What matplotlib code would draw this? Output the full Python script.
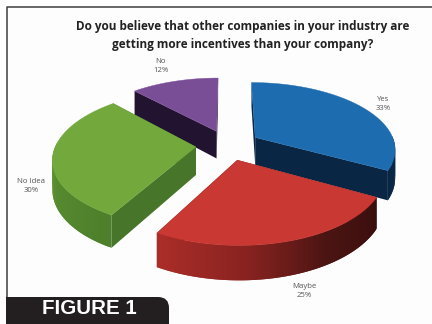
import numpy as np
import matplotlib
matplotlib.use("Agg")
import matplotlib.pyplot as plt
from matplotlib.colors import LinearSegmentedColormap
from matplotlib.patches import FancyBboxPatch, Polygon, Rectangle

labels = ["Yes", "Maybe", "No Idea", "No"]
values = [33, 25, 30, 12]
top_colors = ["#1d6cb0", "#c93832", "#72a83c", "#7a4e96"]
wall_colors = ["#0a2645", "#241019", "#47762b", "#221430"]
# outer rim colours, from the start of each slice's arc to its end
rim_colors = [["#2a7ec4", "#0c2c50", "#0a2645", "#0a2645"],
              ["#3a0e0e", "#4a1412", "#8a2320", "#ab2d28"],
              ["#4d7f2c", "#5c9030", "#68a236"], ["#221430", "#221430"]]
label_pos = [(383, 104), (304, 291), (31, 186), (161, 66)]

title = "Do you believe that other companies in your industry are\ngetting more incentives than your company?"
tag = "FIGURE 1"

# projection of the tilted pie onto the page, in pixels
cx, cy = 228, 145
rx, ry = 140, 66
persp = 0.162
explode = 0.23
depth = 28


def project(x, y, z=0):
    w = 1 / (1 - persp * y)
    return cx + rx * x * w, cy + ry * y * w + depth * z * w


def ground(t, r=1.0, mid=0.0):
    return explode * np.sin(mid) + r * np.sin(t), -explode * np.cos(mid) - r * np.cos(t)


fig = plt.figure(figsize=(4.32, 3.24), dpi=100)
ax = fig.add_axes([0, 0, 1, 1])
ax.set_xlim(0, 432)
ax.set_ylim(324, 0)
ax.axis("off")

# page frame
ax.plot([432, 6.5, 6.5], [6.5, 6.5, 324], color="#3c3c3c", lw=1.1, zorder=1)

edges = np.cumsum([0] + values) / sum(values) * 2 * np.pi
slices = []
for i in range(len(values)):
    a0, a1 = edges[i], edges[i + 1]
    mid = (a0 + a1) / 2
    slices.append((-ground(mid, 0, mid)[1], i, a0, a1, mid))

# furthest slices go down first
for _, i, a0, a1, mid in sorted(slices, key=lambda s: -s[0]):
    ts = np.linspace(a0, a1, 90)
    gx, gy = ground(ts, 1.0, mid)
    ax0, ay0 = ground(mid, 0, mid)
    zo = 5 + ay0

    # straight walls at both cut edges
    for t in (a0, a1):
        ex, ey = ground(t, 1.0, mid)
        quad = [project(ax0, ay0), project(ex, ey), project(ex, ey, 1), project(ax0, ay0, 1)]
        ax.add_patch(Polygon(quad, fc=wall_colors[i], ec="none", zorder=zo))

    # outer rim, shaded along the arc; each strip overlaps the next to hide seams
    cmap = LinearSegmentedColormap.from_list("rim", rim_colors[i])
    for k in range(len(ts) - 1):
        if np.cos(ts[k]) > 0.05:
            continue
        e = min(k + 2, len(ts) - 1)
        quad = [project(gx[k], gy[k]), project(gx[e], gy[e]),
                project(gx[e], gy[e], 1), project(gx[k], gy[k], 1)]
        ax.add_patch(Polygon(quad, fc=cmap(k / (len(ts) - 2)), ec="none", zorder=zo + 0.1))

    # top face
    px, py = project(gx, gy)
    sx, sy = project(ax0, ay0)
    ax.add_patch(Polygon(np.column_stack([np.r_[sx, px], np.r_[sy, py]]),
                         fc=top_colors[i], ec=top_colors[i], lw=0.3, zorder=zo + 0.2))

for name, val, (lx, ly) in zip(labels, values, label_pos):
    ax.text(lx, ly, f"{name}\n{val}%", ha="center", va="center", fontsize=5.6,
            color="#555555", family="Open Sans", linespacing=1.35, zorder=20)

ax.text(243, 35.5, title, ha="center", va="center", fontsize=8.5, fontweight="bold",
        color="#222222", family="Open Sans", linespacing=1.5, zorder=20)

# caption tab in the lower left corner, only its top right corner is rounded
ax.add_patch(FancyBboxPatch((6, 297), 163, 50, boxstyle="round,pad=0,rounding_size=11",
                            fc="#231f20", ec="none", zorder=21))
ax.add_patch(Rectangle((6, 297), 30, 27, fc="#231f20", ec="none", zorder=21))
ax.text(89, 308.5, tag, ha="center", va="center", fontsize=14.8, fontweight="bold",
        color="white", family="Liberation Sans", zorder=22)

fig.savefig("out.png", dpi=100, facecolor="#fdfdfd")
